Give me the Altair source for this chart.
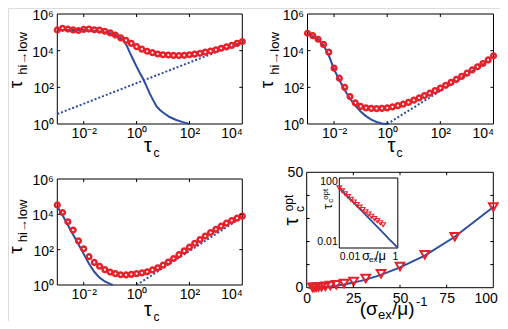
import altair as alt
import pandas as pd

FONT = "Liberation Sans"
RED = "#E8202A"
BLUE = "#2B4EA2"
W, H = 492, 313

# ---------------- data ----------------
TAU = [0.001, 0.00158, 0.00251, 0.00398, 0.00631, 0.01, 0.0158, 0.0251, 0.0398, 0.0631,
       0.1, 0.158, 0.251, 0.398, 0.631, 1, 1.58, 2.51, 3.98, 6.31,
       10, 15.8, 25.1, 39.8, 63.1, 100, 158, 251, 398, 631,
       1000, 1580, 2510, 3980, 6310, 10000]

# panel A (top left)
A_CIRC = [1.35e5, 1.66e5, 1.51e5, 1.35e5, 1.26e5, 1.45e5, 1.51e5, 1.38e5, 1.32e5, 1.15e5,
          9.3e4, 7.1e4, 5.0e4, 3.6e4, 2.5e4, 1.66e4, 1.2e4, 9.3e3, 7.8e3, 6.6e3,
          6.0e3, 5.8e3, 5.5e3, 5.4e3, 5.6e3, 6.0e3, 6.5e3, 7.2e3, 8.3e3, 9.5e3,
          1.12e4, 1.35e4, 1.6e4, 1.95e4, 2.5e4, 3.16e4]
A_SOL_X = [0.001, 0.01, 0.0316, 0.1, 0.178, 0.316, 0.422, 0.562, 0.75, 1.0,
           1.33, 1.78, 2.37, 3.16, 4.22, 5.62, 7.5, 10, 17.8, 31.6, 56.2, 100]
A_SOL_Y = [1.32e5, 1.32e5, 1.2e5, 8.9e4, 6.6e4, 3.8e4, 1.9e4, 7.6e3, 3.2e3, 1.35e3,
           600, 282, 117, 45, 20, 9.5, 6.0, 4.2, 2.4, 1.66, 1.26, 1.0]
A_DOT_X = [0.001, 10000]
A_DOT_Y = [3.5, 3.0e4]

# panel B (top right)
B_CIRC = [8.9e4, 6.6e4, 4.2e4, 2.2e4, 8.3e3, 1.12e3, 316, 100, 31.6, 14.1,
          9.1, 7.6, 7.1, 6.9, 7.1, 7.6, 8.5, 10, 12, 15.1,
          20, 26.3, 35.5, 47.9, 66, 91, 129, 186, 269, 398,
          589, 891, 1318, 2000, 3162, 5248]
B_SOL_X = [0.001, 0.00158, 0.00251, 0.00398, 0.00631, 0.01, 0.0158, 0.0251, 0.0398, 0.0631,
           0.1, 0.158, 0.251, 0.398, 0.631, 1.0]
B_SOL_Y = [8.3e4, 6.3e4, 4.0e4, 2.0e4, 5.6e3, 955, 251, 71, 24, 10,
           4.8, 2.7, 1.74, 1.29, 1.07, 1.0]
B_DOT_X = [1, 10000]
B_DOT_Y = [1, 4169]

# panel C (bottom left)
C_CIRC = [3.4e4, 1.26e4, 3.8e3, 1.29e3, 316, 112, 40, 19, 11.5, 7.4,
          5.4, 4.4, 3.8, 3.7, 4.0, 4.4, 4.8, 5.6, 7.1, 9.5,
          13.2, 20, 31.6, 52, 85, 138, 229, 372, 589, 933,
          1413, 2138, 3162, 4467, 6026, 7943]
C_SOL_X = [0.001, 0.00158, 0.00251, 0.00398, 0.00631, 0.01, 0.0158, 0.0251, 0.0398, 0.0631, 0.1, 0.126]
C_SOL_Y = [2.8e4, 8.9e3, 2.5e3, 708, 200, 56, 15.8, 5.6, 2.6, 1.58, 1.15, 1.0]
C_DOT_X = [1, 10000]
C_DOT_Y = [1, 7079]

# panel D (bottom right): sigma_ex/mu values and optimal tau_c
S_LINE = [0.01, 0.0126, 0.0158, 0.02, 0.0251, 0.0316, 0.0398, 0.05, 0.0631, 0.0794,
          0.1, 0.126, 0.158, 0.2, 0.251, 0.316, 0.398, 0.501, 0.631, 0.794, 1.0]
TOPT_LINE = [35, 22.08, 13.93, 8.79, 5.55, 3.5, 2.21, 1.39, 0.879, 0.555,
             0.35, 0.221, 0.139, 0.0879, 0.0555, 0.035, 0.0221, 0.0139, 0.00879, 0.00555, 0.0035]
S_TRI = [0.01, 0.0126, 0.0158, 0.02, 0.0251, 0.0316, 0.0398, 0.05, 0.0631, 0.0794,
         0.1, 0.126, 0.158, 0.2, 0.251, 0.316]
TOPT_TRI = [35, 22.1, 14.3, 9.2, 6.08, 4.02, 2.72, 1.84, 1.27, 0.90,
            0.64, 0.45, 0.32, 0.23, 0.168, 0.124]
INV_LINE = [1.0 / s for s in S_LINE]
INV_TRI = [1.0 / s for s in S_TRI]

LOG_XTICKS = [0.01, 1, 100, 10000]
LOG_YTICKS = [1, 100, 10000, 1000000]
IN_XT = [0.01, 1, 100]
IN_YT = [100, 10000]
D_XTICKS = [0, 25, 50, 75, 100]
D_YTICKS = [0, 50]
D_IN_XT = [25, 50, 75]
D_IN_YT = [10, 20, 30, 40]

XEXPR = "datum.value < 0.1 ? '10⁻²' : datum.value < 10 ? '10⁰' : datum.value < 1000 ? '10²' : '10⁴'"
YEXPR = "datum.value < 10 ? '10⁰' : datum.value < 1000 ? '10²' : datum.value < 100000 ? '10⁴' : '10⁶'"


def txt(s, x, y, fs, angle=0, align="center", baseline="middle"):
    return alt.Chart(pd.DataFrame({"t": [s]})).mark_text(
        fontSize=fs, angle=angle, align=align, baseline=baseline, font=FONT, color="black"
    ).encode(text="t:N", x=alt.value(x), y=alt.value(y))


def axis(values, expr, orient, pad, offset, fs=14, loff=0, flush=True, flush_off=0):
    return alt.Axis(values=values, labelExpr=expr, orient=orient, ticks=False, domain=False,
                    grid=False, labelFontSize=fs, labelFont=FONT, labelColor="black",
                    labelPadding=pad, title=None, offset=offset, labelOverlap=False,
                    labelOffset=loff, labelFlush=flush, labelFlushOffset=flush_off)


def frame(xs, ys, xa, ya, x0, x1, y0, y1, fill=None):
    df = pd.DataFrame({"x": [x0], "x2": [x1], "y": [y0], "y2": [y1]})
    if fill:
        mk = alt.Chart(df).mark_rect(fill=fill, stroke="black", strokeWidth=1)
    else:
        mk = alt.Chart(df).mark_rect(fillOpacity=0, stroke="black", strokeWidth=1)
    return mk.encode(x=alt.X("x:Q", scale=xs, axis=xa), x2="x2:Q",
                     y=alt.Y("y:Q", scale=ys, axis=ya), y2="y2:Q")


def ticks(xs, ys, xt, yt, xr, yr):
    X = alt.X("x:Q", scale=xs, axis=None)
    Y = alt.Y("y:Q", scale=ys, axis=None)
    dfx = pd.DataFrame({"x": xt})
    dfy = pd.DataFrame({"y": yt})
    return [
        alt.Chart(dfx).mark_rule(color="black").encode(x=X, y=alt.value(yr[0]), y2=alt.value(yr[0] - 3)),
        alt.Chart(dfx).mark_rule(color="black").encode(x=X, y=alt.value(yr[1]), y2=alt.value(yr[1] + 3)),
        alt.Chart(dfy).mark_rule(color="black").encode(y=Y, x=alt.value(xr[0]), x2=alt.value(xr[0] + 3)),
        alt.Chart(dfy).mark_rule(color="black").encode(y=Y, x=alt.value(xr[1]), x2=alt.value(xr[1] - 3)),
    ]


def log_panel(circ, sx, sy, dx, dy, xr, yr, tt):
    xs = alt.Scale(type="log", domain=[1e-3, 1e4], range=xr, nice=False)
    ys = alt.Scale(type="log", domain=[1, 1e6], range=yr, nice=False)
    xa = axis(LOG_XTICKS, XEXPR, "bottom", 2, yr[0] - H)
    ya = axis(LOG_YTICKS, YEXPR, "left", 4, -xr[0], loff=1.5, flush=False)
    X = alt.X("x:Q", scale=xs, axis=None)
    Y = alt.Y("y:Q", scale=ys, axis=None)
    box = frame(xs, ys, xa, ya, 1e-3, 1e4, 1, 1e6)
    sol = alt.Chart(pd.DataFrame({"x": sx, "y": sy})).mark_line(color=BLUE, strokeWidth=2).encode(x=X, y=Y)
    dot = alt.Chart(pd.DataFrame({"x": dx, "y": dy})).mark_line(
        color=BLUE, strokeWidth=2, strokeDash=[2, 2]).encode(x=X, y=Y)
    pts = alt.Chart(pd.DataFrame({"x": TAU, "y": circ})).mark_point(
        shape="circle", filled=False, color=RED, strokeWidth=2.5, size=22, opacity=1).encode(x=X, y=Y)
    (ytx, yty), (ysx, ysy), (xtx, xty), (xsx, xsy) = tt
    titles = [
        txt("τ", ytx, yty, 19, angle=270),
        txt("hi→low", ysx, ysy, 13, angle=270),
        txt("τ", xtx, xty, 20),
        txt("c", xsx, xsy, 12),
    ]
    return [box, sol, dot, pts] + ticks(xs, ys, IN_XT, IN_YT, xr, yr) + titles


layers = []
layers += log_panel(A_CIRC, A_SOL_X, A_SOL_Y, A_DOT_X, A_DOT_Y, [49.3, 234.3], [116, 6],
                    [(8, 76.5), (15, 45.5), (140, 138), (148.5, 145)])
layers += log_panel(B_CIRC, B_SOL_X, B_SOL_Y, B_DOT_X, B_DOT_Y, [299.5, 485.5], [116, 6],
                    [(259, 76.5), (267, 45.5), (383.5, 138), (391.5, 145)])
layers += log_panel(C_CIRC, C_SOL_X, C_SOL_Y, C_DOT_X, C_DOT_Y, [49.3, 234.3], [277, 171],
                    [(7.5, 242), (15, 213), (140, 302), (148.5, 308.5)])

# ---------------- panel D ----------------
DXR, DYR = [298.7, 485.3], [279.7, 164.3]
mxs = alt.Scale(domain=[0, 100], range=DXR, nice=False, zero=False)
mys = alt.Scale(domain=[0, 50], range=DYR, nice=False, zero=False)
mxa = axis(D_XTICKS, "datum.label", "bottom", 4, DYR[0] - H, flush=True, flush_off=4)
mya = axis(D_YTICKS, "datum.label", "left", 4, -DXR[0], flush=False)
MX = alt.X("x:Q", scale=mxs, axis=None)
MY = alt.Y("y:Q", scale=mys, axis=None)
layers.append(frame(mxs, mys, mxa, mya, 0, 100, 0, 50))
layers.append(alt.Chart(pd.DataFrame({"x": INV_LINE, "y": TOPT_LINE})).mark_line(
    color=BLUE, strokeWidth=2).encode(x=MX, y=MY))
layers.append(alt.Chart(pd.DataFrame({"x": INV_TRI, "y": TOPT_TRI})).mark_point(
    shape="triangle-down", filled=False, color=RED, strokeWidth=2, size=75, opacity=1).encode(x=MX, y=MY))
layers += ticks(mxs, mys, D_IN_XT, D_IN_YT, DXR, DYR)

IXR, IYR = [331.3, 389.8], [240, 170]
ixs = alt.Scale(type="log", domain=[0.01, 1], range=IXR, nice=False)
iys = alt.Scale(type="log", domain=[0.0035, 160], range=IYR, nice=False)
ixa = axis([0.01, 1], "datum.value < 0.1 ? '0.01' : '1'", "bottom", 3, IYR[0] - H, fs=10.5)
iya = axis([0.01, 100], "datum.value < 1 ? '0.01' : '100'", "left", 2, -IXR[0], fs=10.5, flush=False)
IX = alt.X("x:Q", scale=ixs, axis=None)
IY = alt.Y("y:Q", scale=iys, axis=None)
layers.append(frame(ixs, iys, ixa, iya, 0.01, 1.0, 0.0035, 160, fill="white"))
layers.append(alt.Chart(pd.DataFrame({"x": S_LINE, "y": TOPT_LINE})).mark_line(
    color=BLUE, strokeWidth=1.8).encode(x=IX, y=IY))
layers.append(alt.Chart(pd.DataFrame({"x": S_TRI, "y": TOPT_TRI})).mark_point(
    shape="triangle-down", filled=False, color=RED, strokeWidth=1.1, size=22, opacity=1).encode(x=IX, y=IY))

layers += [
    txt("τ", 284, 213.5, 20, angle=270),
    txt("c", 291.5, 201, 12, angle=270),
    txt("opt", 281, 195, 12, angle=270),
    txt("(σ", 351.7, 307, 19, align="left", baseline="alphabetic"),
    txt("ex", 370, 311, 13, align="left", baseline="alphabetic"),
    txt("/μ)", 384, 307, 19, align="left", baseline="alphabetic"),
    txt("-1", 408, 298, 13, align="left", baseline="alphabetic"),
    txt("τ", 320.3, 198.7, 13, angle=270),
    txt("c", 323.2, 192.8, 8, angle=270),
    txt("opt", 318, 186.3, 8, angle=270),
    txt("σ", 354, 252, 13, align="left", baseline="alphabetic"),
    txt("ex", 361, 254, 8, align="left", baseline="alphabetic"),
    txt("/μ", 367, 252, 13, align="left", baseline="alphabetic"),
]

chart = alt.layer(*layers).resolve_scale(x="independent", y="independent").properties(
    width=W, height=H,
    autosize=alt.AutoSizeParams(type="none"),
    padding={"left": 0, "top": 0, "right": 0, "bottom": 0},
).configure_view(strokeWidth=0).configure(background="white")

chart.save("out.html", embed_options={"renderer": "svg", "actions": False})
